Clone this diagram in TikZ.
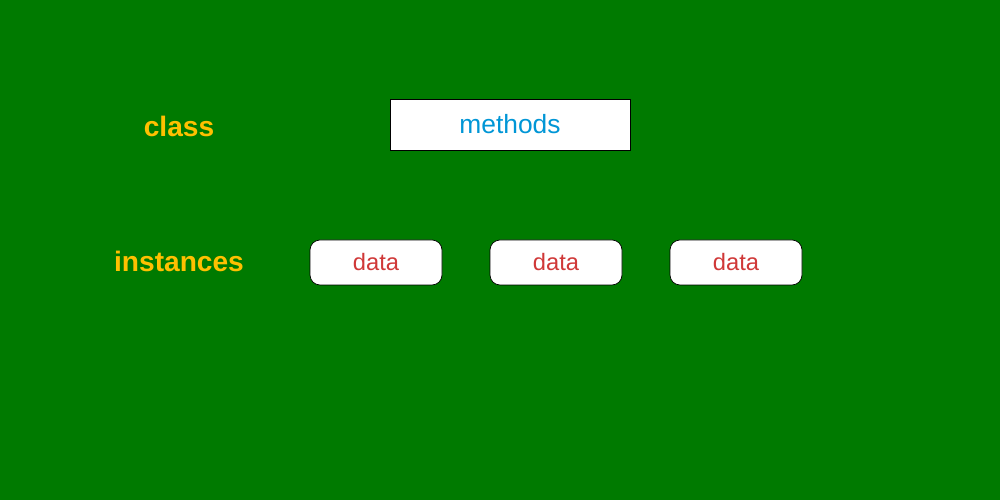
\documentclass[tikz,border=0pt]{standalone}
\usepackage{fontspec}
\setmainfont{Liberation Sans}
\usepackage{tikz}
\definecolor{bggreen}{RGB}{0,122,0}
\definecolor{lblyellow}{RGB}{255,192,0}
\definecolor{methblue}{RGB}{0,150,214}
\definecolor{datared}{RGB}{208,56,56}

\begin{document}
\begin{tikzpicture}[label/.style={text=lblyellow, font=\fontsize{16}{19}\selectfont\bfseries},
databox/.style={draw=black, fill=white, rounded corners=0.2cm, minimum width=2.64cm, minimum height=0.9cm, text=datared, font=\fontsize{13.5}{16}\selectfont}]
\fill[bggreen] (0,0) rectangle (20,10);
\useasboundingbox (0,0) rectangle (20,10);

\node[label] (class) at (3.58,7.48) {class};
\node[label] (instances) at (3.58,4.78) {instances};

\node[draw=black, fill=white, minimum width=4.8cm, minimum height=1.02cm, text=methblue, font=\fontsize{15}{18}\selectfont] (methods) at (10.2,7.51) {methods};

\node[databox] (data1) at (7.52,4.75) {data};
\node[databox] (data2) at (11.12,4.75) {data};
\node[databox] (data3) at (14.72,4.75) {data};
\end{tikzpicture}
\end{document}
